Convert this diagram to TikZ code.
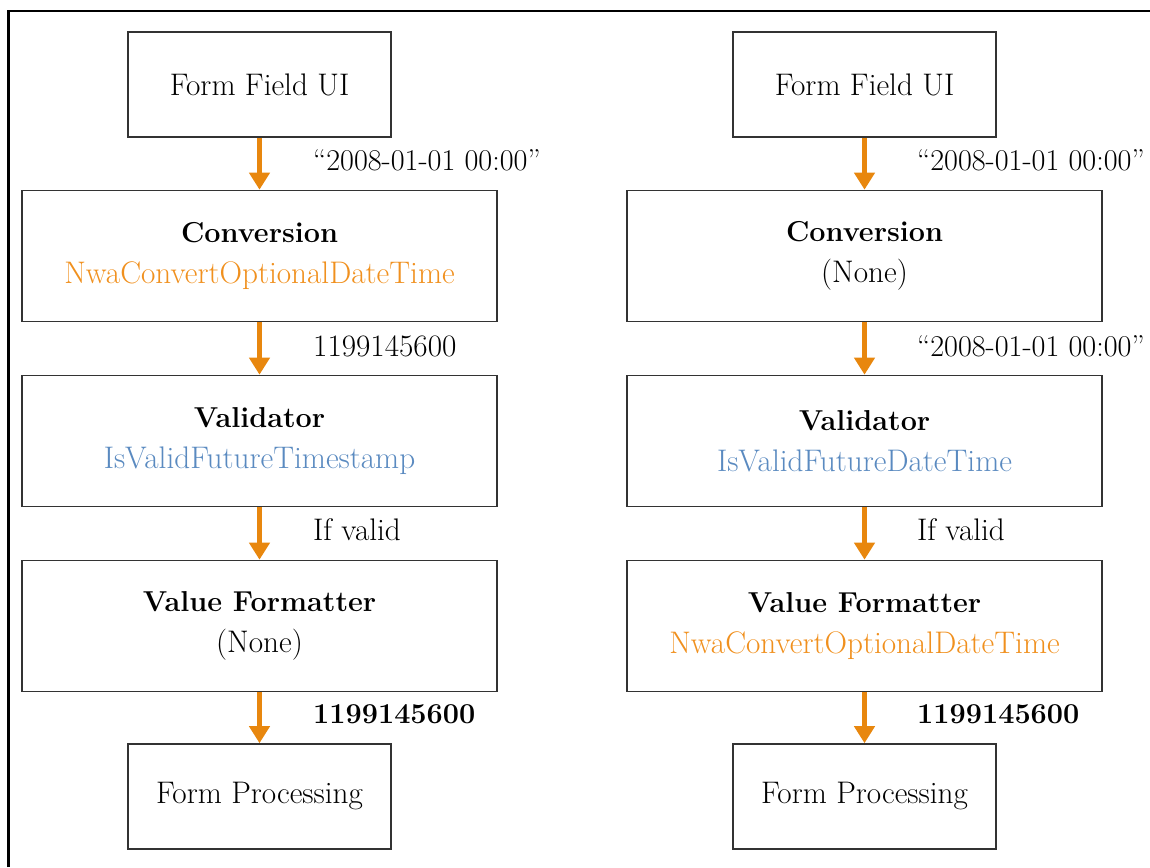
\documentclass[tikz,border=0pt]{standalone}
\usepackage{fontspec}
\usetikzlibrary{arrows.meta}
\definecolor{arrorange}{HTML}{E8870E}
\definecolor{txtorange}{HTML}{F0901E}
\definecolor{txtblue}{HTML}{5A8AC0}
\definecolor{boxline}{HTML}{333333}
\newcommand{\hd}[1]{{\fontsize{28.8}{41}\selectfont\bfseries #1}}
\newcommand{\dt}[1]{{\fontsize{30.2}{36}\selectfont #1}}
\begin{document}
\begin{tikzpicture}[x=1pt,y=-1pt,
  box/.style={draw=boxline,line width=1.6pt,align=center,inner sep=0pt,font=\fontsize{31.2}{41}\selectfont},
  smallbox/.style={box,minimum width=263pt,minimum height=105pt},
  bigbox/.style={box,minimum width=475pt,minimum height=131pt},
  flow/.style={draw=arrorange,line width=5pt,-{Triangle[width=20pt,length=17pt]}},
  lbl/.style={anchor=west,inner sep=0pt,font=\fontsize{31.2}{36}\selectfont}]
\useasboundingbox (0,0) rectangle (1150,867);
\draw[line width=2.6pt] (8.5,867) -- (8.5,11) -- (1150,11);

% left column
\node[smallbox] (l1) at (259.5,84.5) {Form Field UI};
\node[bigbox] (l2) at (259.5,256) {\hd{Conversion}\\\textcolor{txtorange}{NwaConvertOptionalDateTime}};
\node[bigbox] (l3) at (259.5,441) {\hd{Validator}\\\textcolor{txtblue}{IsValidFutureTimestamp}};
\node[bigbox] (l4) at (259.5,626) {\hd{Value Formatter}\\(None)};
\node[smallbox] (l5) at (259.5,796.5) {Form Processing};
\draw[flow] (l1.south) -- (l2.north);
\draw[flow] (l2.south) -- (l3.north);
\draw[flow] (l3.south) -- (l4.north);
\draw[flow] (l4.south) -- (l5.north);
\node[lbl] (la) at (313,160) {\dt{``2008-01-01 00:00''}};
\node[lbl] (lb) at (313,346) {1199145600};
\node[lbl] (lc) at (313,530) {If valid};
\node[lbl] (ld) at (313,714) {\hd{1199145600}};

% right column
\node[smallbox] (r1) at (864.5,84.5) {Form Field UI};
\node[bigbox] (r2) at (864.5,256) {\hd{Conversion}\\(None)};
\node[bigbox] (r3) at (864.5,441) {\hd{Validator}\\\textcolor{txtblue}{IsValidFutureDateTime}};
\node[bigbox] (r4) at (864.5,626) {\hd{Value Formatter}\\\textcolor{txtorange}{NwaConvertOptionalDateTime}};
\node[smallbox] (r5) at (864.5,796.5) {Form Processing};
\draw[flow] (r1.south) -- (r2.north);
\draw[flow] (r2.south) -- (r3.north);
\draw[flow] (r3.south) -- (r4.north);
\draw[flow] (r4.south) -- (r5.north);
\node[lbl] (ra) at (917,160) {\dt{``2008-01-01 00:00''}};
\node[lbl] (rb) at (917,346) {\dt{``2008-01-01 00:00''}};
\node[lbl] (rc) at (917,530) {If valid};
\node[lbl] (rd) at (917,714) {\hd{1199145600}};
\end{tikzpicture}
\end{document}
